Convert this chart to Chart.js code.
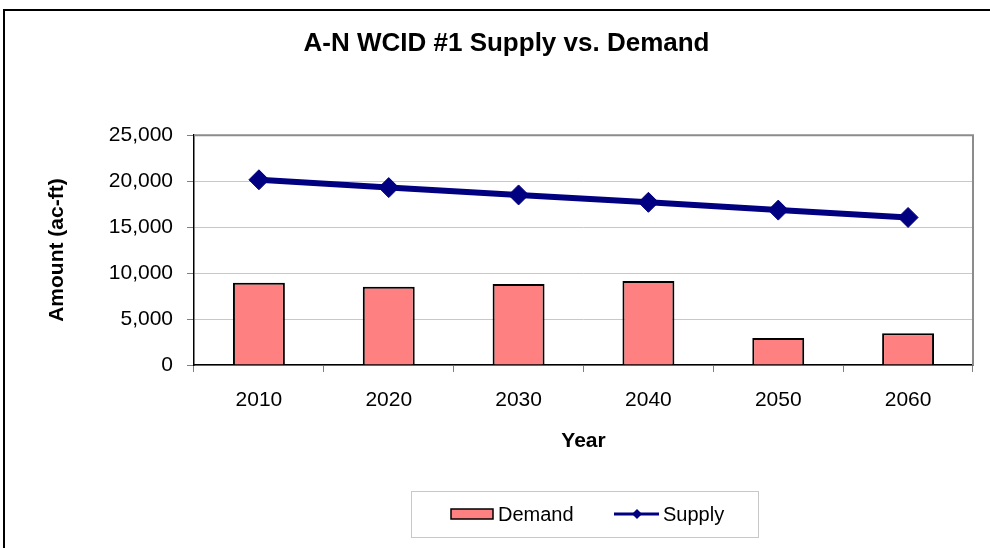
<!DOCTYPE html>
<html>
<head>
<meta charset="utf-8">
<script src="https://cdn.jsdelivr.net/npm/chart.js@4"></script>
<style>
  body { margin: 0; background: #fff; }
  #wrap { position: relative; width: 990px; height: 548px; }
</style>
</head>
<body>
<div id="wrap"><canvas id="myChart"></canvas></div>
<script>
// data
const years = ["2010", "2020", "2030", "2040", "2050", "2060"];
const demand = [8950, 8500, 8800, 9150, 2950, 3450];
const supply = [20150, 19300, 18500, 17700, 16850, 16050];
const yTicks = [0, 5000, 10000, 15000, 20000, 25000];

const FONT = "Arial, 'Liberation Sans', sans-serif";

// frame, plot border and legend box
const extras = {
  id: "extras",
  beforeDatasetsDraw(chart) {
    const { ctx, chartArea: a } = chart;
    ctx.save();
    ctx.strokeStyle = "#8c8c8c";
    ctx.lineWidth = 2;
    ctx.beginPath();
    ctx.moveTo(a.left, a.top);
    ctx.lineTo(a.right, a.top);
    ctx.lineTo(a.right, a.bottom);
    ctx.stroke();
    ctx.restore();
  },
  afterDraw(chart) {
    const { ctx } = chart;
    ctx.save();
    // outer frame
    ctx.strokeStyle = "#000";
    ctx.lineWidth = 2;
    ctx.strokeRect(4, 10, 1000, 600);

    // legend
    const bx = 411, by = 491, bw = 347, bh = 46;
    ctx.strokeStyle = "#c8c8c8";
    ctx.lineWidth = 1;
    ctx.strokeRect(bx + 0.5, by + 0.5, bw, bh);
    const cy = by + bh / 2;
    ctx.fillStyle = "#FF8080";
    ctx.fillRect(451, cy - 5, 42, 10);
    ctx.strokeStyle = "#000";
    ctx.lineWidth = 1.5;
    ctx.strokeRect(451, cy - 5, 42, 10);
    ctx.fillStyle = "#000";
    ctx.font = "20px " + FONT;
    ctx.textBaseline = "middle";
    ctx.fillText("Demand", 498, cy + 1);

    ctx.strokeStyle = "#000080";
    ctx.lineWidth = 3;
    ctx.beginPath();
    ctx.moveTo(614, cy);
    ctx.lineTo(659, cy);
    ctx.stroke();
    ctx.fillStyle = "#000080";
    ctx.beginPath();
    ctx.moveTo(637 - 5, cy);
    ctx.lineTo(637, cy - 5);
    ctx.lineTo(637 + 5, cy);
    ctx.lineTo(637, cy + 5);
    ctx.closePath();
    ctx.fill();
    ctx.fillStyle = "#000";
    ctx.fillText("Supply", 663, cy + 1);
    ctx.restore();
  }
};

const data = {
  labels: years,
  datasets: [
    {
      type: "line",
      label: "Supply",
      data: supply,
      borderColor: "#000080",
      backgroundColor: "#000080",
      borderWidth: 6,
      pointStyle: "rectRot",
      pointRadius: 10,
      pointBorderWidth: 1,
      tension: 0,
      order: 0
    },
    {
      type: "bar",
      label: "Demand",
      data: demand,
      backgroundColor: "#FF8080",
      borderColor: "#000",
      borderWidth: 2,
      barPercentage: 0.4,
      categoryPercentage: 1,
      order: 1
    }
  ]
};

const config = {
  data,
  options: {
    responsive: true,
    maintainAspectRatio: false,
    animation: false,
    layout: { padding: { left: 40, right: 17, top: 0, bottom: 83 } },
    plugins: {
      legend: { display: false },
      tooltip: { enabled: false },
      title: {
        display: true,
        text: "A-N WCID #1 Supply vs. Demand",
        color: "#000",
        font: { family: FONT, size: 26, weight: "bold" },
        padding: { top: 28, bottom: 76 }
      }
    },
    scales: {
      x: {
        offset: true,
        grid: { offset: true, drawOnChartArea: false, drawTicks: true, tickLength: 7, color: "#808080" },
        border: { color: "#000", width: 1.5 },
        ticks: { color: "#000", padding: 16, font: { family: FONT, size: 21 } },
        title: {
          display: true,
          text: "Year",
          color: "#000",
          font: { family: FONT, size: 21, weight: "bold" },
          padding: { top: 0, bottom: 11 }
        },
        afterFit(s) { s.height = 100; }
      },
      y: {
        min: 0,
        max: 25000,
        afterBuildTicks(s) { s.ticks = yTicks.map(v => ({ value: v })); },
        grid: { color: "#c8c8c8", tickLength: 7, tickColor: "#808080" },
        border: { color: "#000", width: 1.5 },
        ticks: {
          color: "#000",
          padding: 14,
          font: { family: FONT, size: 21 },
          callback: v => v.toLocaleString("en-US")
        },
        title: {
          display: true,
          text: "Amount (ac-ft)",
          color: "#000",
          font: { family: FONT, size: 21, weight: "bold" },
          padding: { top: 5, bottom: 0 }
        },
        afterFit(s) { s.width = 154; }
      }
    }
  },
  plugins: [extras]
};

var myChart = new Chart(document.getElementById("myChart"), config);
</script>
</body>
</html>
